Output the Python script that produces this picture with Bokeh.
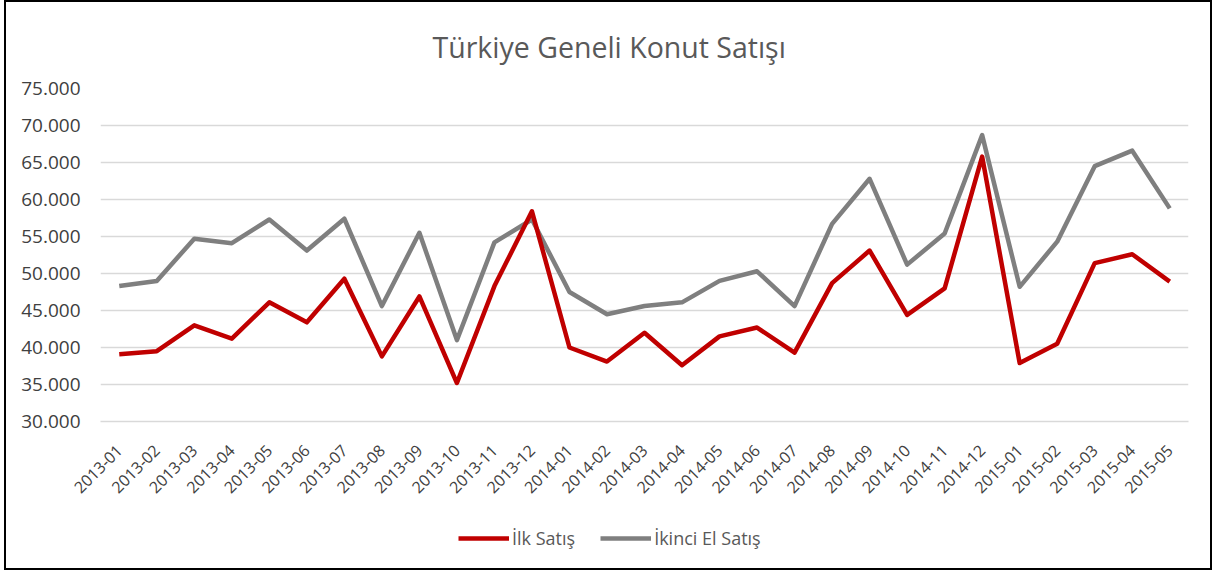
from bokeh.plotting import figure
from bokeh.layouts import column
from bokeh.models import FactorRange, Range1d, FixedTicker, Legend, LegendItem, ColumnDataSource, Title
from bokeh.embed import file_html
from bokeh.resources import INLINE
import math

months = ["2013-01", "2013-02", "2013-03", "2013-04", "2013-05", "2013-06", "2013-07",
          "2013-08", "2013-09", "2013-10", "2013-11", "2013-12", "2014-01", "2014-02",
          "2014-03", "2014-04", "2014-05", "2014-06", "2014-07", "2014-08", "2014-09",
          "2014-10", "2014-11", "2014-12", "2015-01", "2015-02", "2015-03", "2015-04",
          "2015-05"]

ilk_satis = [39100, 39500, 43000, 41200, 46100, 43400, 49300, 38800, 46900, 35200,
             48300, 58400, 40000, 38100, 42000, 37600, 41500, 42700, 39300, 48700,
             53100, 44400, 48000, 65800, 37900, 40500, 51400, 52600, 48900]

ikinci_el = [48300, 49000, 54700, 54100, 57300, 53100, 57400, 45600, 55500, 41000,
             54200, 57300, 47500, 44500, 45600, 46100, 49000, 50300, 45600, 56700,
             62800, 51200, 55400, 68700, 48200, 54300, 64500, 66600, 58800]

y_ticks = [30000, 35000, 40000, 45000, 50000, 55000, 60000, 65000, 70000, 75000]
y_tick_labels = ["30.000", "35.000", "40.000", "45.000", "50.000", "55.000",
                 "60.000", "65.000", "70.000", "75.000"]

series_names = ["İlk Satış", "İkinci El Satış"]
series_colors = ["#C00000", "#7F7F7F"]

src = ColumnDataSource(dict(x=months, ilk=ilk_satis, ikinci=ikinci_el))

FONT = "Open Sans"

p = figure(width=1204, height=509, x_range=FactorRange(*months, range_padding=0),
           y_range=Range1d(30000, 75000), output_backend="svg", toolbar_location=None,
           min_border_left=94, min_border_right=22, min_border_top=86, min_border_bottom=90)
p.outline_line_color = None
p.background_fill_color = "white"
p.border_fill_color = "white"

p.title.visible = False
t = Title(text="Türkiye Geneli Konut Satışı", align="left", offset=332, standoff=46,
          text_font=FONT, text_font_size="28.5px", text_font_style="normal",
          text_color="#595959")
p.add_layout(t, "above")

p.line("x", "ikinci", source=src, line_color=series_colors[1], line_width=4.5, line_join="round")
p.line("x", "ilk", source=src, line_color=series_colors[0], line_width=4.5, line_join="round")

p.xgrid.grid_line_color = None
p.ygrid.grid_line_color = "#D9D9D9"
p.ygrid.grid_line_width = 1.5
p.yaxis.ticker = FixedTicker(ticks=y_ticks)
p.yaxis.major_label_overrides = {v: s for v, s in zip(y_ticks, y_tick_labels)}
p.yaxis.axis_line_color = None
p.yaxis.major_tick_line_color = None
p.yaxis.major_tick_out = 0
p.yaxis.minor_tick_line_color = None
p.yaxis.minor_tick_out = 0
p.yaxis.major_label_text_font = FONT
p.yaxis.major_label_text_font_size = "19px"
p.yaxis.major_label_text_color = "#404040"
p.yaxis.major_label_standoff = 20

p.xaxis.axis_line_color = "#D9D9D9"
p.xaxis.axis_line_width = 1.5
p.xaxis.major_tick_line_color = None
p.xaxis.major_tick_out = 0
p.xaxis.minor_tick_line_color = None
p.xaxis.minor_tick_out = 0
p.xaxis.major_label_orientation = math.pi / 4
p.xaxis.major_label_text_font = FONT
p.xaxis.major_label_text_font_size = "16px"
p.xaxis.major_label_text_color = "#404040"
p.xaxis.major_label_standoff = 26

# legend strip below the chart
pl = figure(width=1204, height=57, x_range=Range1d(0, 1), y_range=Range1d(0, 1),
            output_backend="svg", toolbar_location=None,
            min_border_left=0, min_border_right=0, min_border_top=0, min_border_bottom=0)
pl.axis.visible = False
pl.grid.visible = False
pl.outline_line_color = None
pl.background_fill_color = "white"
pl.border_fill_color = "white"
leg_r = [pl.line(x=[5, 6], y=[5, 6], line_color=c, line_width=4.5) for c in series_colors]

legend = Legend(items=[LegendItem(label=n, renderers=[r]) for n, r in zip(series_names, leg_r)],
                orientation="horizontal", location=(358, 18),
                border_line_color=None, background_fill_alpha=0,
                label_text_font=FONT, label_text_font_size="18px",
                label_text_color="#595959", glyph_width=51, glyph_height=14,
                spacing=25, label_standoff=3, padding=0, margin=0)
pl.add_layout(legend, "center")

layout = column(p, pl, spacing=0)
layout.styles = {"border": "2px solid black", "margin-left": "4px"}

open("out.html", "w").write(file_html(layout, INLINE))
